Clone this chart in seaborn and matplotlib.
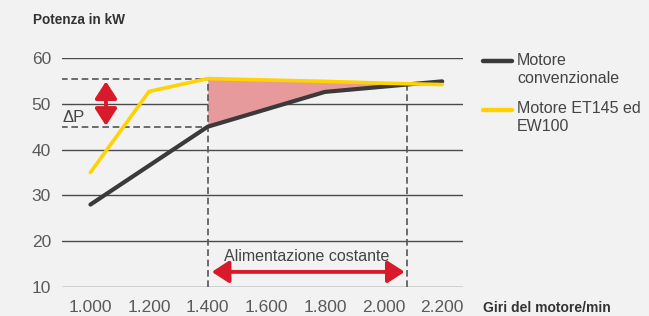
import numpy as np
import pandas as pd
import matplotlib
matplotlib.use("Agg")
import matplotlib.pyplot as plt
import seaborn as sns

# Giri del motore/min
rpm = [1000, 1200, 1400, 1600, 1800, 2000, 2200]
# Potenza in kW
conventional_kw = [28.0, 36.5, 45.0, 48.8, 52.6, 53.75, 54.9]
et145_kw = [35.0, 52.7, 55.5, 55.2, 54.9, 54.5, 54.2]

series_names = ["Motore\nconvenzionale", "Motore ET145 ed\nEW100"]
series_colors = ["#3a3a3a", "#ffd200"]
y_ticks = [10, 20, 30, 40, 50, 60]
x_ticks = [1000, 1200, 1400, 1600, 1800, 2000, 2200]
x_tick_labels = ["1.000", "1.200", "1.400", "1.600", "1.800", "2.000", "2.200"]

# constant power zone
zone_start = 1400
zone_end = 2080

df = pd.DataFrame({
    "rpm": rpm * 2,
    "kW": conventional_kw + et145_kw,
    "Motore": [series_names[0]] * len(rpm) + [series_names[1]] * len(rpm),
})

sns.set_theme(style="white")
plt.rcParams["font.family"] = ["Liberation Sans", "DejaVu Sans"]

bg = "#f2f2f2"
grey = "#555555"
red = "#d91a2a"

fig = plt.figure(figsize=(6.49, 3.16), dpi=100, facecolor=bg)
ax = fig.add_axes([62 / 649, 29 / 316, 401 / 649, 229 / 316])
ax.set_facecolor(bg)

for y in y_ticks:
    ax.axhline(y, color="#4a4a4a", lw=1.0, zorder=1)

# shaded gain area between the two curves
xs = np.linspace(zone_start, zone_end, 60)
ax.fill_between(xs, np.interp(xs, rpm, conventional_kw), np.interp(xs, rpm, et145_kw),
                color="#e69a9c", lw=0, zorder=2)

# dashed reference lines
p_top = np.interp(zone_start, rpm, et145_kw)
p_bot = np.interp(zone_start, rpm, conventional_kw)
p_end = np.interp(zone_end, rpm, et145_kw)
dash = dict(color=grey, lw=1.2, dashes=(4, 2.2), zorder=3)
ax.plot([900, zone_start], [p_top, p_top], **dash)
ax.plot([900, zone_start], [p_bot, p_bot], **dash)
ax.plot([zone_start, zone_start], [10, p_top], **dash)
ax.plot([zone_end, zone_end], [10, p_end], **dash)

sns.lineplot(data=df, x="rpm", y="kW", hue="Motore", ax=ax,
             palette=series_colors, linewidth=3.0, zorder=4, legend=False)
for ln, lw in zip(ax.get_lines()[-2:], [3.0, 2.6]):
    ln.set_linewidth(lw)

# arrows
ax.annotate("", xy=(1053, 45.2), xytext=(1053, 54.9),
            arrowprops=dict(arrowstyle="<|-|>,head_length=0.85,head_width=0.55",
                            color=red, lw=2.8, shrinkA=0, shrinkB=0), zorder=5)
ax.annotate("", xy=(1414, 13.3), xytext=(2072, 13.3),
            arrowprops=dict(arrowstyle="<|-|>,head_length=0.85,head_width=0.55",
                            color=red, lw=2.8, shrinkA=0, shrinkB=0), zorder=5)
ax.text(906, 47.0, "ΔP", fontsize=12, color="#444444", va="center", ha="left")
ax.text(1738, 16.7, "Alimentazione costante", fontsize=11.5, color="#444444",
        va="center", ha="center")

ax.set_xlim(903, 2271)
ax.set_ylim(10, 60)
ax.set_xticks(x_ticks)
ax.set_xticklabels(x_tick_labels)
ax.set_yticks(y_ticks)
ax.tick_params(axis="both", length=0, labelsize=12.5, labelcolor="#5a5a5a")
ax.tick_params(axis="x", pad=9.5)
ax.tick_params(axis="y", pad=8)
ax.set_xlabel("")
ax.set_ylabel("")
for s in ax.spines.values():
    s.set_visible(False)

# legend drawn by hand so the key sits on the first text line
for name, color, y_line, y_text in zip(series_names, series_colors, [61, 110], [69.5, 117.5]):
    fig.add_artist(plt.Line2D([483 / 649, 512 / 649], [1 - y_line / 316] * 2,
                              color=color, lw=3.2, transform=fig.transFigure))
    fig.text(517 / 649, 1 - y_text / 316, name, fontsize=11.5, color="#444444",
             va="center", ha="left", linespacing=1.2)

fig.text(33 / 649, 1 - 19.5 / 316, "Potenza in kW", fontsize=9.8, fontweight="bold",
         color="#333333", va="center", ha="left")
fig.text(483 / 649, 1 - 307.5 / 316, "Giri del motore/min", fontsize=10, fontweight="bold",
         color="#333333", va="center", ha="left")

fig.savefig("out.png", dpi=100, facecolor=bg)
